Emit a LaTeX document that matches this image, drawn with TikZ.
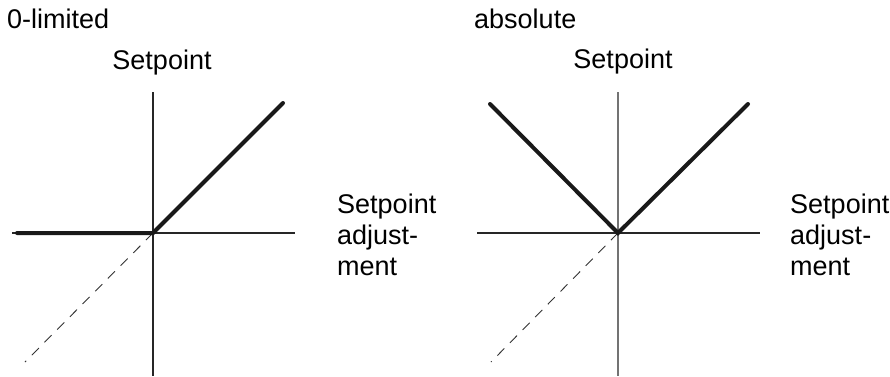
\documentclass[tikz,border=0pt]{standalone}
\usepackage{fontspec}
\setmainfont{Liberation Sans}
\begin{document}
\begin{tikzpicture}[x=1pt,y=-1pt,
  lbl/.style={inner sep=0pt,font=\fontsize{27}{31}\selectfont},
  axis/.style={line width=1.3pt,black!85},
  vaxis/.style={line width=1.3pt},
  curve/.style={line width=4pt,black!90,line cap=round,line join=miter},
  guide/.style={line width=0.9pt,dash pattern=on 10pt off 8pt,black!80}]
\useasboundingbox (0,0) rectangle (890,376);
% ---- left chart: 0-limited
\node[lbl,anchor=base west] (tl) at (7,28) {0-limited};
\node[lbl,anchor=base] (sl) at (162,69) {Setpoint};
\node[lbl,anchor=base west,align=left] (al) at (337,275) {Setpoint\\adjust-\\ment};
\coordinate (o1) at (153,233);
\coordinate (l1) at (12,233);
\coordinate (r1) at (295,233);
\coordinate (t1) at (153,92);
\coordinate (b1) at (153,376);
\coordinate (cl1) at (17,233);
\coordinate (cr1) at (283,103);
\coordinate (d1) at (25,362);
\draw[axis] (l1) -- (r1);
\draw[vaxis,black!85] (t1) -- (b1);
\draw[guide] (o1) -- (d1);
\draw[curve] (cl1) -- (o1) -- (cr1);
% ---- right chart: absolute
\node[lbl,anchor=base west] (tr) at (474,28) {absolute};
\node[lbl,anchor=base] (sr) at (623,68) {Setpoint};
\node[lbl,anchor=base west,align=left] (ar) at (790,275) {Setpoint\\adjust-\\ment};
\coordinate (o2) at (618,233);
\coordinate (l2) at (477,233);
\coordinate (r2) at (760,233);
\coordinate (t2) at (618,92);
\coordinate (b2) at (618,376);
\coordinate (cl2) at (490,104);
\coordinate (cr2) at (748,104);
\coordinate (d2) at (491,362);
\draw[axis] (l2) -- (r2);
\draw[vaxis,black!55] (t2) -- (b2);
\draw[guide] (o2) -- (d2);
\draw[curve] (cl2) -- (o2) -- (cr2);
\end{tikzpicture}
\end{document}
